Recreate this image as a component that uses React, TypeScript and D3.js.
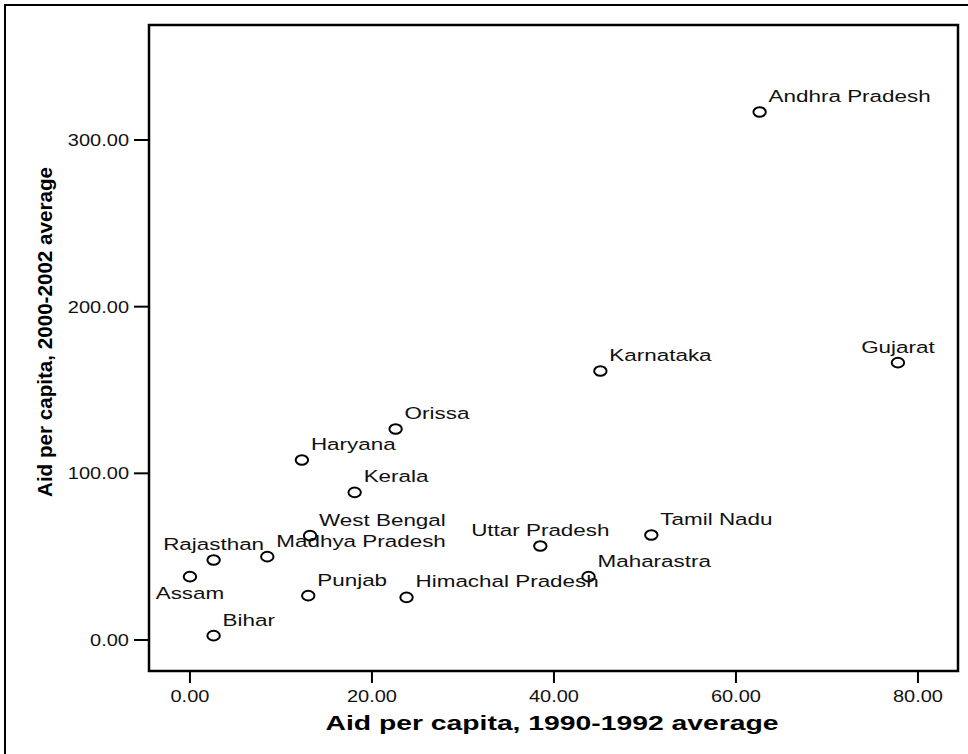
import React from "react";
import * as d3 from "d3";

const states = ["Andhra Pradesh", "Gujarat", "Karnataka", "Orissa", "Haryana", "Kerala", "West Bengal", "Uttar Pradesh", "Tamil Nadu", "Rajasthan", "Madhya Pradesh", "Maharastra", "Assam", "Punjab", "Himachal Pradesh", "Bihar"];
const aid1990 = [62.6, 77.8, 45.1, 22.6, 12.3, 18.1, 13.2, 38.5, 50.7, 2.6, 8.5, 43.8, 0.0, 13.0, 23.8, 2.6];
const aid2000 = [316.8, 166.4, 161.4, 126.6, 108.0, 88.6, 62.6, 56.4, 63.0, 48.0, 50.0, 38.0, 38.0, 26.6, 25.6, 2.6];
const labelSide = ["right", "above", "right", "right", "right", "right", "right", "above", "right", "above", "right", "right", "below", "right", "right", "right"];
const xTicks = [0, 20, 40, 60, 80];
const yTicks = [0, 100, 200, 300];
const xTitle = "Aid per capita, 1990-1992 average";
const yTitle = "Aid per capita, 2000-2002 average";

const W = 968, H = 754;
const FONT = "'Liberation Sans', Arial, Helvetica, sans-serif";
const frame = { left: 149, right: 958, top: 25, bottom: 671 };

export default function App() {
  const x = d3.scaleLinear().domain([-4.5, 84.4]).range([frame.left, frame.right]);
  const y = d3.scaleLinear().domain([-18.6, 369]).range([frame.bottom, frame.top]);
  const fmt = d3.format(".2f");
  const sx = 1.25;
  const lsx = 1.32;

  return (
    <svg width={W} height={H} style={{ position: "absolute", left: 0, top: 0, background: "#fff" }} fontFamily={FONT}>
      <rect x={0} y={0} width={W} height={H} fill="#fff" />
      {/* outer border */}
      <rect x={5} y={5} width={W + 20} height={H + 20} fill="none" stroke="#000" strokeWidth={2} />
      {/* plot frame */}
      <rect x={frame.left} y={frame.top} width={frame.right - frame.left} height={frame.bottom - frame.top} fill="none" stroke="#000" strokeWidth={2.5} />

      {/* x ticks */}
      {xTicks.map((t) => (
        <g key={"xt" + t}>
          <line x1={x(t)} x2={x(t)} y1={frame.bottom} y2={frame.bottom + 12} stroke="#000" strokeWidth={2} />
          <text transform={`translate(${x(t)},${frame.bottom + 31}) scale(${sx},1)`} textAnchor="middle" fontSize={16} fill="#111">{fmt(t)}</text>
        </g>
      ))}
      {/* y ticks */}
      {yTicks.map((t) => (
        <g key={"yt" + t}>
          <line x1={frame.left - 15} x2={frame.left} y1={y(t)} y2={y(t)} stroke="#000" strokeWidth={2} />
          <text transform={`translate(${frame.left - 20},${y(t) + 6}) scale(${sx},1)`} textAnchor="end" fontSize={16} fill="#111">{fmt(t)}</text>
        </g>
      ))}

      {/* axis titles */}
      <text x={552} y={730} textAnchor="middle" fontSize={20} fontWeight="bold" textLength={453} lengthAdjust="spacingAndGlyphs" fill="#000">{xTitle}</text>
      <text transform={`translate(52,332) rotate(-90)`} textAnchor="middle" fontSize={21} fontWeight="bold" textLength={330} lengthAdjust="spacingAndGlyphs" fill="#000">{yTitle}</text>

      {/* points */}
      {states.map((s, i) => {
        const cx = x(aid1990[i]);
        const cy = y(aid2000[i]);
        const side = labelSide[i];
        let tx = cx + 9, ty = cy - 10, anchor = "start";
        if (side === "above") { tx = cx; ty = cy - 10; anchor = "middle"; }
        if (side === "below") { tx = cx; ty = cy + 22; anchor = "middle"; }
        return (
          <g key={s}>
            <ellipse cx={cx} cy={cy} rx={6.2} ry={4.8} fill="none" stroke="#000" strokeWidth={2} />
            <text transform={`translate(${tx},${ty}) scale(${lsx},1)`} textAnchor={anchor} fontSize={17} fill="#111">{s}</text>
          </g>
        );
      })}
    </svg>
  );
}
